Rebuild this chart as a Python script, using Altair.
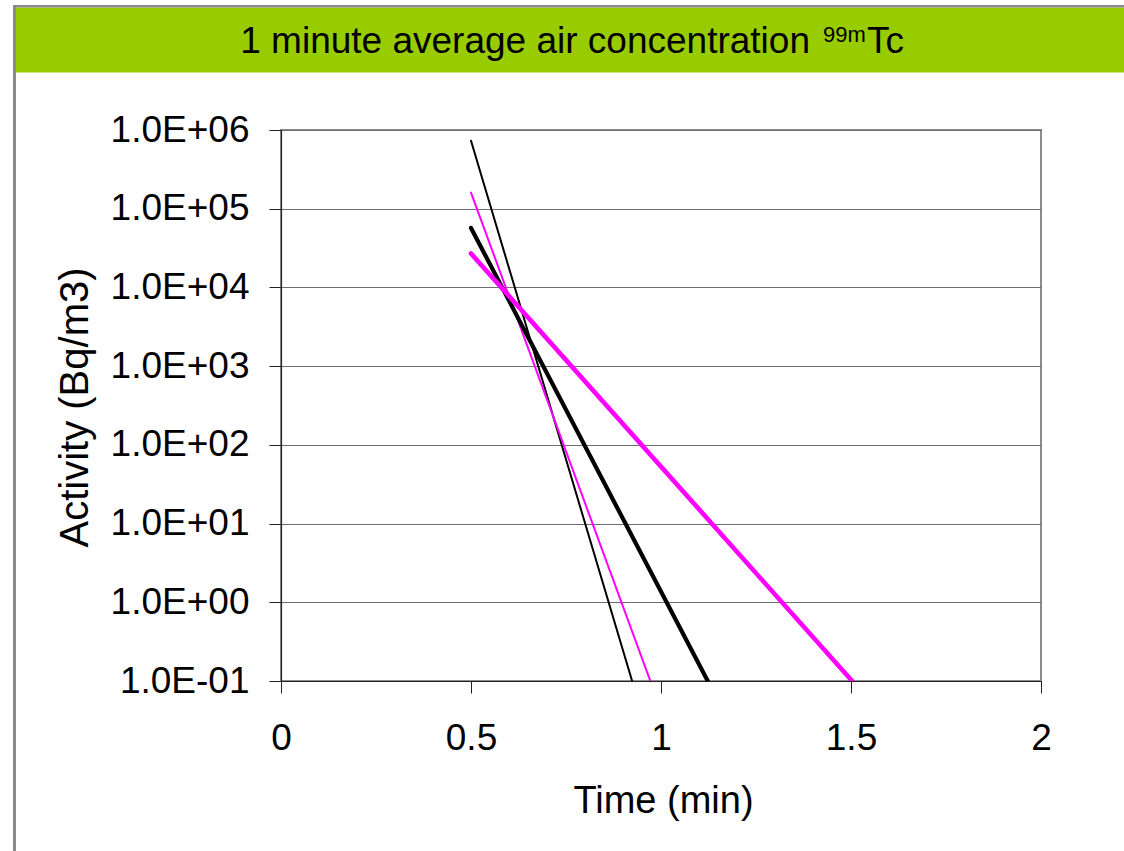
import altair as alt
import pandas as pd

# ---- data ----
series = ["thin black", "thin black", "thin magenta", "thin magenta",
          "thick black", "thick black", "thick magenta", "thick magenta"]
time_min = [0.5, 0.924, 0.5, 0.972, 0.5, 1.123, 0.5, 1.503]
activity = [7.3e5, 0.1, 1.6e5, 0.1, 5.7e4, 0.1, 2.7e4, 0.1]

series_names = ["thin black", "thin magenta", "thick black", "thick magenta"]
series_colors = ["#000000", "#FF00FF", "#000000", "#FF00FF"]
series_widths = [2.0, 2.0, 4.2, 4.6]

y_ticks = [0.1, 1, 10, 100, 1000, 10000, 100000, 1000000]
x_ticks = [0, 0.5, 1, 1.5, 2]

title_main = "1 minute average air concentration"
title_sup = "99m"
title_tail = "Tc"
x_title = "Time (min)"
y_title = "Activity (Bq/m3)"

FONT = "Liberation Sans"

df = pd.DataFrame({"series": series, "time": time_min, "activity": activity})

# plot area origin in page pixels
OX, OY = 281, 130
W, H = 760, 551

one = pd.DataFrame({"k": [0]})

# gray outer frame (top and left)
frame_top = alt.Chart(one).mark_rect(color="#8a8a8a").encode(
    x=alt.value(13 - OX), x2=alt.value(1124 - OX),
    y=alt.value(5 - OY), y2=alt.value(7.5 - OY))
frame_left = alt.Chart(one).mark_rect(color="#8a8a8a").encode(
    x=alt.value(13 - OX), x2=alt.value(16 - OX),
    y=alt.value(5 - OY), y2=alt.value(851 - OY))
band = alt.Chart(one).mark_rect(color="#99CC00").encode(
    x=alt.value(16 - OX), x2=alt.value(1124 - OX),
    y=alt.value(7.5 - OY), y2=alt.value(72.5 - OY))

t_main = alt.Chart(pd.DataFrame({"t": [title_main]})).mark_text(
    font=FONT, fontSize=37, align="right", baseline="alphabetic", color="black"
).encode(text="t:N", x=alt.value(810 - OX), y=alt.value(53 - OY))
t_sup = alt.Chart(pd.DataFrame({"t": [title_sup]})).mark_text(
    font=FONT, fontSize=22, align="left", baseline="alphabetic", color="black"
).encode(text="t:N", x=alt.value(823 - OX), y=alt.value(42 - OY))
t_tail = alt.Chart(pd.DataFrame({"t": [title_tail]})).mark_text(
    font=FONT, fontSize=37, align="left", baseline="alphabetic", color="black"
).encode(text="t:N", x=alt.value(867 - OX), y=alt.value(53 - OY))

exp_expr = "round(log(datum.value)/LN10)"
y_label_expr = ("'1.0E' + (" + exp_expr + " < 0 ? '-' : '+') + (abs(" + exp_expr +
                ") < 10 ? '0' : '') + abs(" + exp_expr + ")")

x_enc = alt.X("time:Q",
              scale=alt.Scale(domain=[0, 2], nice=False, zero=False),
              axis=alt.Axis(values=x_ticks, format="~g", title=x_title,
                            grid=False, tickSize=12, tickColor="#222222",
                            domainColor="#222222", domainWidth=1.2,
                            labelFont=FONT, labelFontSize=37, labelColor="black",
                            labelPadding=27, labelFlush=False, labelOverlap=False,
                            titleFont=FONT, titleFontSize=38, titleColor="black",
                            titleFontWeight="normal", titleBaseline="alphabetic",
                            titleY=131, titleX=W / 2 + 2))
y_enc = alt.Y("activity:Q",
              scale=alt.Scale(type="log", domain=[0.1, 1e6], nice=False),
              axis=alt.Axis(values=y_ticks, labelExpr=y_label_expr, title=y_title,
                            grid=True, gridColor="#6e6e6e", gridWidth=1,
                            tickSize=12, tickColor="#222222",
                            domainColor="#222222", domainWidth=1.2,
                            labelFont=FONT, labelFontSize=37, labelColor="black",
                            labelPadding=20, labelAlign="right", labelBaseline="middle",
                            labelFlush=False, labelOverlap=False,
                            titleFont=FONT, titleFontSize=40, titleColor="black",
                            titleFontWeight="normal", titleBaseline="alphabetic",
                            titleAngle=270, titleAlign="center",
                            titleX=87 - OX, titleY=407 - OY))

base = alt.Chart(df)
line_layers = []
for name, col, sw in zip(series_names, series_colors, series_widths):
    line_layers.append(
        base.transform_filter(alt.datum.series == name)
        .mark_line(clip=True, strokeCap="round", color=col, strokeWidth=sw)
        .encode(x=x_enc, y=y_enc)
    )

chart = alt.layer(band, frame_top, frame_left, t_main, t_sup, t_tail, *line_layers).properties(
    width=W, height=H,
    padding={"left": OX, "top": OY, "right": 1124 - OX - W, "bottom": 851 - OY - H},
    autosize=alt.AutoSizeParams(type="none"),
    background="white",
).configure_view(stroke="#8c8c8c", strokeWidth=2)

chart.save("out.html", embed_options={"renderer": "svg", "actions": False})
